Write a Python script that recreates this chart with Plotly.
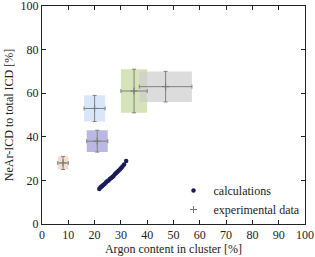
import plotly.graph_objects as go

# Calculations (scatter points)
calc_x = [21.8, 22.2, 22.5, 22.9, 23.3, 23.8, 24.3, 24.8, 25.3, 25.8, 26.3, 26.8,
          27.2, 27.7, 28.2, 28.6, 29.1, 29.6, 30.1, 30.6, 31.2, 32.0]
calc_y = [16.0, 16.7, 17.1, 17.4, 17.9, 18.4, 19.0, 19.6, 20.0, 20.6, 21.1, 21.6,
          22.0, 22.8, 23.4, 23.8, 24.4, 25.0, 25.7, 26.4, 27.3, 28.9]

# Experimental data with uncertainties
exp_x = [8, 21, 20, 35, 47]
exp_y = [28, 38, 53, 61, 63]
exp_dx = [2, 4, 4, 5, 10]
exp_dy = [3, 5, 6, 10, 7]
box_colors = ["rgba(240,210,190,0.75)", "rgba(170,165,220,0.8)", "rgba(205,225,248,0.8)",
              "rgba(200,218,160,0.75)", "rgba(205,205,205,0.7)"]

x_ticks = list(range(0, 101, 10))
y_ticks = list(range(0, 101, 20))

FONT = "Liberation Serif, DejaVu Serif, Times New Roman, serif"

fig = go.Figure()

shapes = []
for x, y, dx, dy, c in zip(exp_x, exp_y, exp_dx, exp_dy, box_colors):
    shapes.append(dict(type="rect", xref="x", yref="y", x0=x - dx, x1=x + dx,
                       y0=y - dy, y1=y + dy, fillcolor=c, line=dict(width=0),
                       layer="below"))

fig.add_trace(go.Scatter(
    x=calc_x, y=calc_y, mode="markers", name="calculations",
    marker=dict(color="#1b1b5c", size=4.5), showlegend=True))

fig.add_trace(go.Scatter(
    x=exp_x, y=exp_y, mode="markers", name="experimental data",
    marker=dict(color="#777777", size=5, symbol="cross-thin-open",
                line=dict(color="#555555", width=1)),
    error_x=dict(type="data", array=exp_dx, visible=True, color="#808080",
                 thickness=1, width=2),
    error_y=dict(type="data", array=exp_dy, visible=True, color="#808080",
                 thickness=1, width=2)))

axis_common = dict(showgrid=False, zeroline=False, showline=True, linecolor="#222",
                   linewidth=1, mirror="ticks", ticks="inside", ticklen=4,
                   tickcolor="#222", automargin=False, ticklabeloverflow="allow",
                   tickfont=dict(family=FONT, size=12, color="#222"))

fig.update_layout(
    width=315, height=257,
    margin=dict(l=42, r=10, t=6, b=33),
    paper_bgcolor="white", plot_bgcolor="white",
    shapes=shapes,
    font=dict(family=FONT, color="#222"),
    xaxis=dict(range=[0, 100], tickvals=x_ticks,
               title=dict(text="Argon content in cluster [%]", standoff=2,
                          font=dict(family=FONT, size=12)),
               **axis_common),
    yaxis=dict(range=[0, 100], tickvals=y_ticks,
               title=dict(text="NeAr-ICD to total ICD [%]", standoff=4,
                          font=dict(family=FONT, size=12)),
               **axis_common),
    legend=dict(x=0.50, y=0.0, xanchor="left", yanchor="bottom",
                bgcolor="rgba(0,0,0,0)", font=dict(family=FONT, size=12),
                itemwidth=30, tracegroupgap=0),
)

fig.write_html("out.html", config={"displayModeBar": False},
               post_script="document.body.style.margin='0';")
